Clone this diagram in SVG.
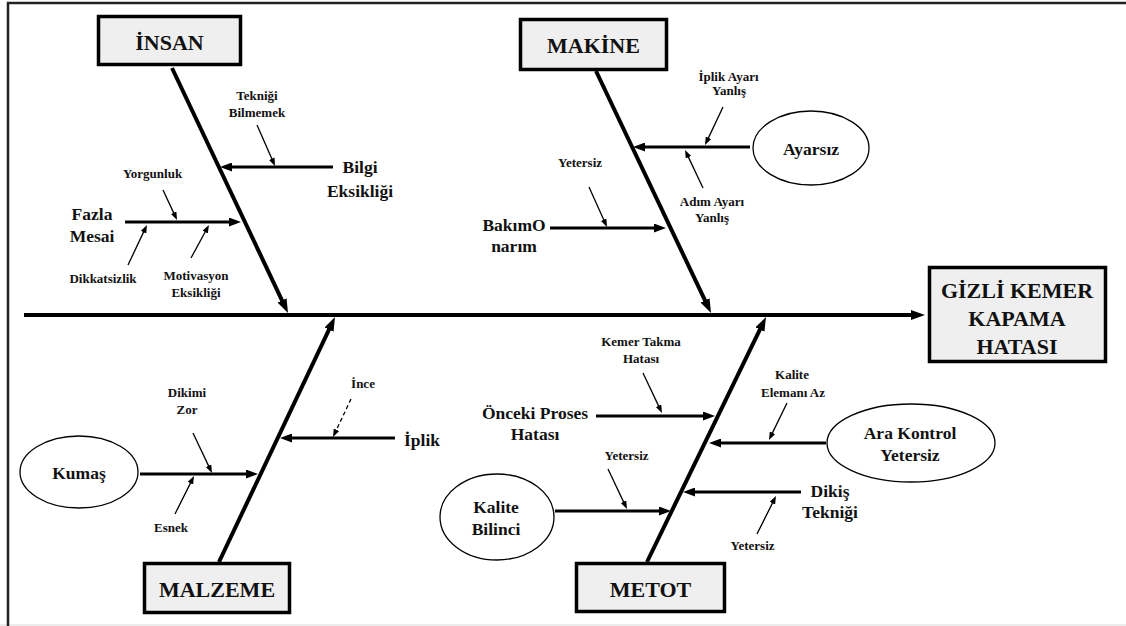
<svg xmlns="http://www.w3.org/2000/svg" width="1126" height="626" viewBox="0 0 1126 626">
<defs>
<marker id="ah-big" viewBox="0 0 14 10" markerWidth="14" markerHeight="10" refX="3" refY="5" orient="auto" markerUnits="userSpaceOnUse"><path d="M0,0 L14,5 L0,10 z" fill="#000"/></marker>
<marker id="ah-med" viewBox="0 0 12 9" markerWidth="12" markerHeight="9" refX="3" refY="4.5" orient="auto" markerUnits="userSpaceOnUse"><path d="M0,0 L12,4.5 L0,9 z" fill="#000"/></marker>
<marker id="ah-sm" viewBox="0 0 8 6" markerWidth="8" markerHeight="6" refX="2" refY="3" orient="auto" markerUnits="userSpaceOnUse"><path d="M0,0 L8,3 L0,6 z" fill="#000"/></marker>
<style>
text{font-weight:bold;fill:#111;text-anchor:middle}
.t{font-size:22px}
.m{font-size:17.5px}
.s{font-size:13px}
.box{fill:#efefef;stroke:#000;stroke-width:3.5}
.ell{fill:#fff;stroke:#000;stroke-width:1.3}
.spine{stroke:#000;stroke-width:4;fill:none;marker-end:url(#ah-big)}
.br{stroke:#000;stroke-width:3.2;fill:none;marker-end:url(#ah-med)}
.sa{stroke:#000;stroke-width:1.3;fill:none;marker-end:url(#ah-sm)}
.dash{stroke-dasharray:4 3}
</style>
</defs>
<rect width="1126" height="626" fill="#fff"/>
<g id="frame">
<line x1="0" y1="625" x2="1126" y2="625" stroke="#e6e6e6" stroke-width="1.5"/>
<path d="M8,626 V3 H1126" fill="none" stroke="#222" stroke-width="2.5"/>
</g>
<g id="connectors">
<line class="spine" x1="24" y1="315" x2="914" y2="315"/>
<line class="spine" x1="172" y1="68" x2="283.3" y2="303.1"/>
<line class="spine" x1="596" y1="71" x2="706.3" y2="303.1"/>
<line class="spine" x1="219" y1="562" x2="330.3" y2="326.9"/>
<line class="spine" x1="647" y1="562" x2="761.2" y2="326.9"/>
<line class="br" x1="333" y1="167" x2="229" y2="167"/>
<line class="br" x1="125" y1="222" x2="232" y2="222"/>
<line class="br" x1="750" y1="147" x2="642" y2="147"/>
<line class="br" x1="550" y1="228" x2="657" y2="228"/>
<line class="br" x1="140" y1="474" x2="249" y2="474"/>
<line class="br" x1="395" y1="438" x2="289" y2="438"/>
<line class="br" x1="596" y1="416" x2="706" y2="416"/>
<line class="br" x1="826" y1="443" x2="718" y2="443"/>
<line class="br" x1="801" y1="492" x2="692" y2="492"/>
<line class="br" x1="555" y1="511" x2="662" y2="511"/>
<line class="sa" x1="257" y1="125" x2="272.6" y2="160.5"/>
<line class="sa" x1="163" y1="190" x2="174.5" y2="214.6"/>
<line class="sa" x1="128" y1="265" x2="144.4" y2="230.4"/>
<line class="sa" x1="191" y1="258" x2="206.1" y2="230.3"/>
<line class="sa" x1="723" y1="107" x2="707.6" y2="139.6"/>
<line class="sa" x1="703" y1="188" x2="687.6" y2="155.4"/>
<line class="sa" x1="589" y1="187" x2="604.5" y2="221.5"/>
<line class="sa" x1="193" y1="433" x2="209.4" y2="467.6"/>
<line class="sa" x1="175" y1="514" x2="191.3" y2="481.4"/>
<line class="sa dash" x1="351" y1="399" x2="335.6" y2="431.6"/>
<line class="sa" x1="643" y1="373" x2="659.4" y2="407.6"/>
<line class="sa" x1="787" y1="403" x2="771.6" y2="434.6"/>
<line class="sa" x1="757" y1="534" x2="773.3" y2="501.4"/>
<line class="sa" x1="608" y1="469" x2="624.4" y2="503.6"/>
</g>
<g font-family="'Liberation Serif', 'DejaVu Serif', serif">
<g id="insan"><rect class="box" x="98.5" y="16.5" width="142" height="48"/><text class="t" x="169.5" y="50">İNSAN</text></g>
<g id="makine"><rect class="box" x="520.5" y="19.5" width="146" height="50"/><text class="t" x="593.5" y="53">MAKİNE</text></g>
<g id="sonuc"><rect class="box" x="929.5" y="267.5" width="176" height="94"/><text class="t" x="1017" y="298">GİZLİ KEMER</text><text class="t" x="1017" y="326">KAPAMA</text><text class="t" x="1017" y="354">HATASI</text></g>
<g id="malzeme"><rect class="box" x="144.5" y="563.5" width="145" height="49"/><text class="t" x="217" y="597">MALZEME</text></g>
<g id="metot"><rect class="box" x="576.5" y="563.5" width="148" height="48"/><text class="t" x="650.5" y="597">METOT</text></g>
<g id="bilgi"><text class="m" x="360" y="173">Bilgi</text><text class="m" x="360" y="197">Eksikliği</text></g>
<g id="teknigi"><text class="s" x="257" y="100">Tekniği</text><text class="s" x="257" y="117">Bilmemek</text></g>
<g id="fazla"><text class="m" x="92" y="220">Fazla</text><text class="m" x="92" y="242">Mesai</text></g>
<g id="yorgunluk"><text class="s" x="152.5" y="178">Yorgunluk</text></g>
<g id="dikkatsizlik"><text class="s" x="103" y="283">Dikkatsizlik</text></g>
<g id="motivasyon"><text class="s" x="196" y="280">Motivasyon</text><text class="s" x="196" y="297">Eksikliği</text></g>
<g id="ayarsiz"><ellipse class="ell" cx="811" cy="148" rx="58" ry="37"/><text class="m" x="811" y="155">Ayarsız</text></g>
<g id="iplikayari"><text class="s" x="728.5" y="81">İplik Ayarı</text><text class="s" x="729" y="95">Yanlış</text></g>
<g id="adimayari"><text class="s" x="712" y="206">Adım Ayarı</text><text class="s" x="712" y="222">Yanlış</text></g>
<g id="yetersiz1"><text class="s" x="580" y="167">Yetersiz</text></g>
<g id="bakim"><text class="m" x="514" y="231">BakımO</text><text class="m" x="514" y="252">narım</text></g>
<g id="kumas"><ellipse class="ell" cx="79" cy="472" rx="59" ry="36"/><text class="m" x="79" y="479">Kumaş</text></g>
<g id="dikimi"><text class="s" x="187" y="397">Dikimi</text><text class="s" x="187" y="414">Zor</text></g>
<g id="esnek"><text class="s" x="171" y="532">Esnek</text></g>
<g id="iplik"><text class="m" x="404" y="446" style="text-anchor:start">İplik</text></g>
<g id="ince"><text class="s" x="363" y="388">İnce</text></g>
<g id="onceki"><text class="m" x="535" y="419">Önceki Proses</text><text class="m" x="535" y="440">Hatası</text></g>
<g id="kemertakma"><text class="s" x="641" y="346">Kemer Takma</text><text class="s" x="641" y="363">Hatası</text></g>
<g id="arakontrol"><ellipse class="ell" cx="911" cy="443" rx="84" ry="39"/><text class="m" x="910" y="439">Ara Kontrol</text><text class="m" x="910" y="461">Yetersiz</text></g>
<g id="kaliteeleman"><text class="s" x="792" y="379">Kalite</text><text class="s" x="793" y="397">Elemanı Az</text></g>
<g id="dikis"><text class="m" x="830" y="497">Dikiş</text><text class="m" x="830" y="518">Tekniği</text></g>
<g id="yetersiz3"><text class="s" x="752.5" y="550">Yetersiz</text></g>
<g id="kalitebilinci"><ellipse class="ell" cx="497" cy="517" rx="57" ry="43"/><text class="m" x="496" y="513">Kalite</text><text class="m" x="496" y="535">Bilinci</text></g>
<g id="yetersiz2"><text class="s" x="626.5" y="460">Yetersiz</text></g>
</g>
</svg>
